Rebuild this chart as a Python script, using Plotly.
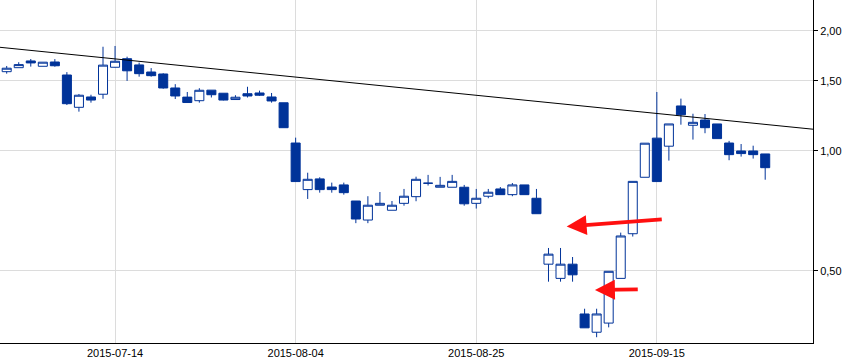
import math
import numpy as np
import plotly.graph_objects as go

dates = [
    "2015-07-01", "2015-07-02", "2015-07-03", "2015-07-06", "2015-07-07", "2015-07-08", "2015-07-09", "2015-07-10",
    "2015-07-13", "2015-07-14", "2015-07-15", "2015-07-16", "2015-07-17", "2015-07-20", "2015-07-21", "2015-07-22",
    "2015-07-23", "2015-07-24", "2015-07-27", "2015-07-28", "2015-07-29", "2015-07-30", "2015-07-31",
    "2015-08-03", "2015-08-04", "2015-08-05", "2015-08-06", "2015-08-07", "2015-08-10", "2015-08-11", "2015-08-12",
    "2015-08-13", "2015-08-14", "2015-08-17", "2015-08-18", "2015-08-19", "2015-08-20", "2015-08-21", "2015-08-24",
    "2015-08-25", "2015-08-26", "2015-08-27", "2015-08-28", "2015-08-31",
    "2015-09-01", "2015-09-02", "2015-09-03", "2015-09-04", "2015-09-07", "2015-09-08", "2015-09-09", "2015-09-10",
    "2015-09-11", "2015-09-14", "2015-09-15", "2015-09-16", "2015-09-17", "2015-09-18", "2015-09-21", "2015-09-22",
    "2015-09-23", "2015-09-24", "2015-09-25", "2015-09-28",
]

opens = [1.581, 1.618, 1.682, 1.631, 1.672, 1.551, 1.287, 1.366, 1.388, 1.622,
         1.704, 1.644, 1.578, 1.560, 1.439, 1.365, 1.337, 1.421, 1.396, 1.346,
         1.392, 1.398, 1.366, 1.321, 1.047, 0.800, 0.851, 0.812, 0.822, 0.749,
         0.671, 0.731, 0.710, 0.739, 0.768, 0.830, 0.811, 0.811, 0.811, 0.739,
         0.770, 0.803, 0.777, 0.822, 0.761, 0.520, 0.479, 0.520, 0.390, 0.351,
         0.370, 0.479, 0.620, 0.859, 1.077, 1.028, 1.297, 1.160, 1.196, 1.169,
         1.047, 1.000, 1.000, 0.983]
highs = [1.634, 1.670, 1.701, 1.670, 1.700, 1.577, 1.390, 1.384, 1.826, 1.834,
         1.724, 1.666, 1.614, 1.567, 1.471, 1.406, 1.437, 1.421, 1.396, 1.380,
         1.449, 1.417, 1.398, 1.321, 1.080, 0.882, 0.859, 0.833, 0.833, 0.749,
         0.770, 0.789, 0.749, 0.803, 0.862, 0.871, 0.861, 0.871, 0.822, 0.803,
         0.803, 0.812, 0.831, 0.822, 0.803, 0.571, 0.571, 0.542, 0.402, 0.402,
         0.499, 0.624, 0.839, 1.046, 1.406, 1.169, 1.353, 1.240, 1.238, 1.169,
         1.060, 1.041, 1.031, 0.983]
lows = [1.563, 1.618, 1.628, 1.631, 1.627, 1.304, 1.255, 1.322, 1.352, 1.620,
        1.499, 1.536, 1.536, 1.433, 1.350, 1.323, 1.322, 1.362, 1.339, 1.346,
        1.362, 1.374, 1.322, 1.144, 0.838, 0.758, 0.786, 0.786, 0.777, 0.659,
        0.659, 0.731, 0.710, 0.729, 0.748, 0.819, 0.811, 0.811, 0.729, 0.717,
        0.761, 0.777, 0.770, 0.777, 0.696, 0.470, 0.470, 0.470, 0.360, 0.341,
        0.361, 0.479, 0.610, 0.859, 0.838, 0.946, 1.164, 1.068, 1.108, 1.074,
        0.948, 0.968, 0.957, 0.847]
closes = [1.613, 1.647, 1.663, 1.670, 1.636, 1.314, 1.380, 1.342, 1.642, 1.679,
          1.589, 1.563, 1.545, 1.439, 1.374, 1.323, 1.420, 1.384, 1.342, 1.364,
          1.374, 1.380, 1.335, 1.144, 0.838, 0.849, 0.800, 0.800, 0.786, 0.675,
          0.731, 0.739, 0.731, 0.770, 0.849, 0.830, 0.820, 0.839, 0.737, 0.761,
          0.788, 0.777, 0.822, 0.777, 0.696, 0.551, 0.520, 0.489, 0.360, 0.390,
          0.499, 0.612, 0.839, 1.046, 0.838, 1.169, 1.233, 1.180, 1.144, 1.074,
          0.979, 0.985, 0.979, 0.908]

tick_dates = ["2015-07-14", "2015-08-04", "2015-08-25", "2015-09-15"]
y_tick_values = [0.5, 1.0, 1.5, 2.0]
y_tick_labels = ["0,50", "1,00", "1,50", "2,00"]

# trend line values at the left and right edge of the plot
trend_values = [1.820, 1.134]

# red arrows: tip position (trading-day index, price) and tail offset in pixels
arrow_x = [46.51, 48.86]
arrow_y = [0.646, 0.448]
arrow_dx = [96.6, 44.3]
arrow_dy = [-7.4, -0.7]

x_range = [-0.556, 66.97]
y_range = [0.3298, 2.392]

BLUE = "#003399"
GRID = "#dcdcdc"

xpos = np.busday_count(dates[0], dates).tolist()
tick_pos = np.busday_count(dates[0], tick_dates).tolist()

fig = go.Figure()
fig.add_trace(go.Candlestick(
    x=xpos, open=opens, high=highs, low=lows, close=closes,
    increasing=dict(line=dict(color=BLUE, width=1), fillcolor="white"),
    decreasing=dict(line=dict(color=BLUE, width=1), fillcolor=BLUE),
    whiskerwidth=0, showlegend=False, hoverinfo="skip",
))
fig.add_trace(go.Scatter(
    x=x_range, y=trend_values, mode="lines",
    line=dict(color="black", width=1), showlegend=False, hoverinfo="skip",
))

for ax_, ay_, dx, dy in zip(arrow_x, arrow_y, arrow_dx, arrow_dy):
    fig.add_annotation(
        x=ax_, y=math.log10(ay_), xref="x", yref="y", text="",
        showarrow=True, ax=dx, ay=dy, arrowhead=2, arrowsize=1.05,
        arrowwidth=3.8, arrowcolor="#ff1010", standoff=0, startstandoff=0,
    )

fig.update_layout(
    width=867, height=362,
    margin=dict(l=0, r=54, t=0, b=19),
    paper_bgcolor="white", plot_bgcolor="white",
    font=dict(family="Liberation Sans, Arial, sans-serif", size=11, color="black"),
    boxgap=0.25, boxgroupgap=0,
    showlegend=False,
)
fig.update_xaxes(
    type="linear", range=x_range, tickmode="array", tickvals=tick_pos, ticktext=tick_dates,
    showgrid=True, gridcolor=GRID, gridwidth=1, zeroline=False,
    showline=True, linecolor="black", linewidth=1, ticks="", ticklen=0,
    rangeslider=dict(visible=False), tickfont=dict(size=11),
)
fig.update_yaxes(
    type="log", range=[math.log10(y_range[0]), math.log10(y_range[1])], side="right",
    tickmode="array", tickvals=y_tick_values, ticktext=y_tick_labels,
    showgrid=True, gridcolor=GRID, gridwidth=1, zeroline=False,
    showline=True, linecolor="black", linewidth=1, ticks="outside", ticklen=4,
    tickcolor="black", tickfont=dict(size=11),
)

fig.write_html(
    "out.html",
    config={"displayModeBar": False},
    post_script="document.body.style.margin='0px';document.body.style.padding='0px';",
)
